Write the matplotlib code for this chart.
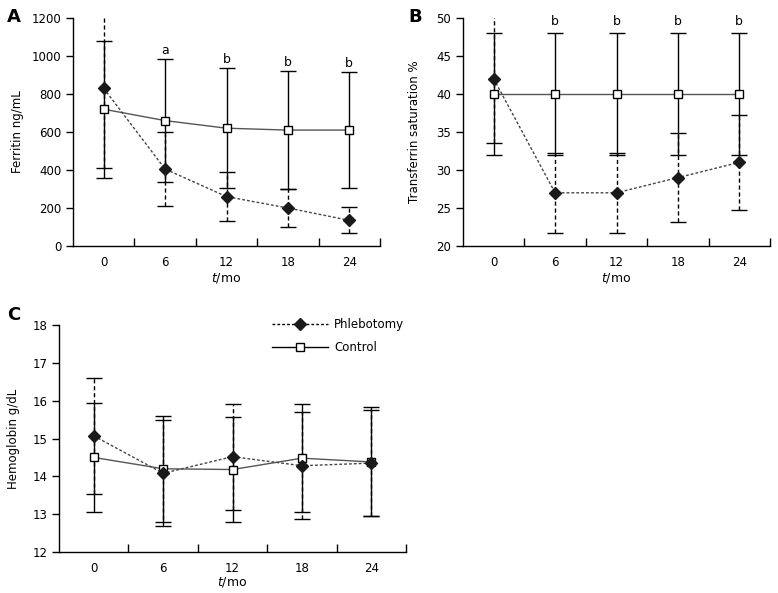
import matplotlib
matplotlib.use('Agg')
import matplotlib.pyplot as plt
from matplotlib.lines import Line2D

# 时间点 (月)
months = ['0', '6', '12', '18', '24']

# A: 铁蛋白
ferritin_phleb = [830, 405, 260, 200, 135]
ferritin_phleb_sd = [420, 195, 130, 100, 68]
ferritin_ctrl = [720, 660, 620, 610, 610]
ferritin_ctrl_sd = [360, 325, 315, 310, 305]
ferritin_marks = ['', 'a', 'b', 'b', 'b']

# B: 转铁蛋白饱和度
tsat_phleb = [42, 27, 27, 29, 31]
tsat_phleb_sd = [8.4, 5.3, 5.3, 5.85, 6.2]
tsat_ctrl = [40, 40, 40, 40, 40]
tsat_ctrl_sd = [8, 8, 8, 8, 8]
tsat_marks = ['', 'b', 'b', 'b', 'b']

# C: 血红蛋白
hb_phleb = [15.07, 14.08, 14.52, 14.28, 14.35]
hb_phleb_sd = [1.53, 1.4, 1.4, 1.42, 1.4]
hb_ctrl = [14.5, 14.2, 14.18, 14.48, 14.38]
hb_ctrl_sd = [1.45, 1.4, 1.4, 1.43, 1.44]

plt.rcParams['font.family'] = ['DejaVu Sans']
plt.rcParams['font.size'] = 8

W, H = 778, 593
fig = plt.figure(figsize=(W / 100, H / 100), dpi=100)


def px_axes(left, right, top, bottom):
    # 用像素坐标创建坐标轴
    return fig.add_axes([left / W, 1 - bottom / H, (right - left) / W, (bottom - top) / H])


def draw_panel(ax, phleb, phleb_sd, ctrl, ctrl_sd, ylim, yticks, ylabel, ylab_x, xlab_y):
    x = list(range(len(months)))
    # 误差线：放血组虚线，对照组实线
    eb = ax.errorbar(x, phleb, yerr=phleb_sd, fmt='none', ecolor='black',
                     elinewidth=1, capsize=6, capthick=1, zorder=2)
    eb[2][0].set_linestyle((0, (3, 2)))
    ax.errorbar(x, ctrl, yerr=ctrl_sd, fmt='none', ecolor='black',
                elinewidth=1, capsize=6, capthick=1, zorder=3)
    ax.plot(x, ctrl, color='#555555', lw=1, marker='s', ms=6,
            mfc='white', mec='black', mew=1, zorder=4, label='Control')
    ax.plot(x, phleb, color='#444444', lw=1, ls=(0, (2, 1.5)), marker='D', ms=6.5,
            mfc='#1a1a1a', mec='#1a1a1a', zorder=5, label='Phlebotomy')

    ax.set_xlim(-0.5, 4.5)
    ax.set_ylim(*ylim)
    ax.set_yticks(yticks)
    ax.set_xticks(x)
    ax.set_xticklabels(months)
    ax.set_xticks([0.5, 1.5, 2.5, 3.5, 4.5], minor=True)
    ax.tick_params(axis='x', which='major', length=0, pad=7, labelsize=8.5)
    ax.tick_params(axis='x', which='minor', direction='in', length=6, width=1)
    ax.tick_params(axis='y', direction='out', length=5, width=1, labelsize=8.5)
    for s in ['top', 'right']:
        ax.spines[s].set_visible(False)
    for s in ['left', 'bottom']:
        ax.spines[s].set_linewidth(1)
    ax.set_ylabel(ylabel, fontsize=8.5)
    ax.yaxis.set_label_coords(ylab_x, 0.5)
    ax.set_xlabel(r'$\it{t}$/mo', fontsize=9)
    ax.xaxis.set_label_coords(0.5, xlab_y)


# A
axA = px_axes(73, 380, 18, 246)
draw_panel(axA, ferritin_phleb, ferritin_phleb_sd, ferritin_ctrl, ferritin_ctrl_sd,
           (0, 1200), range(0, 1201, 200), 'Ferritin ng/mL', -0.161, -0.11)
for i, m in enumerate(ferritin_marks):
    if m:
        top = max(ferritin_phleb[i] + ferritin_phleb_sd[i], ferritin_ctrl[i] + ferritin_ctrl_sd[i])
        axA.text(i, top + 45, m, ha='center', va='center', fontsize=9)

# B
axB = px_axes(463, 770, 18, 246)
draw_panel(axB, tsat_phleb, tsat_phleb_sd, tsat_ctrl, tsat_ctrl_sd,
           (20, 50), range(20, 51, 5), 'Transferrin saturation %', -0.136, -0.11)
for i, m in enumerate(tsat_marks):
    if m:
        axB.text(i, 49.6, m, ha='center', va='center', fontsize=9)

# C
axC = px_axes(59, 406, 325, 552)
draw_panel(axC, hb_phleb, hb_phleb_sd, hb_ctrl, hb_ctrl_sd,
           (12, 18), range(12, 19), 'Hemoglobin g/dL', -0.112, -0.10)

# 图例
handles = [
    Line2D([], [], color='black', lw=1, ls=(0, (2, 1.5)), marker='D', ms=6.5,
           mfc='#1a1a1a', mec='#1a1a1a'),
    Line2D([], [], color='black', lw=1, marker='s', ms=6, mfc='white', mec='black'),
]
fig.legend(handles, ['Phlebotomy', 'Control'], loc='center left',
           bbox_to_anchor=(261 / W, 1 - 336 / H), frameon=False, fontsize=8.5,
           handlelength=4.8, handletextpad=0.5, labelspacing=0.9, numpoints=1)

# 子图标号
for lab, xp, yp in [('A', 7, 17), ('B', 408, 17), ('C', 7, 315)]:
    fig.text(xp / W, 1 - yp / H, lab, fontsize=13, fontweight='bold', va='center', ha='left')

fig.savefig('out.png', dpi=100)
